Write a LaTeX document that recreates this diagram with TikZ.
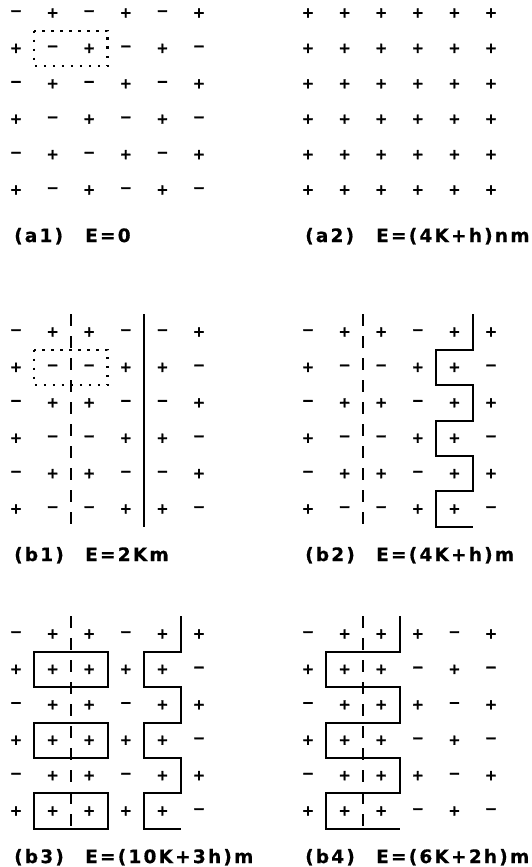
\documentclass[tikz,border=0pt]{standalone}
\usepackage{fontspec}
\newfontfamily\signfont[FakeBold=1.5]{DejaVu Sans Bold}
\newfontfamily\labelfont[LetterSpace=12,FakeBold=0.5]{DejaVu Sans Bold}
\usepackage{tikz}
\tikzstyle{sgn}      = [inner sep=0pt, font=\signfont\fontsize{14.5}{14.5}\selectfont]
\tikzstyle{caption}  = [anchor=base west, inner sep=0pt,
                        font=\labelfont\fontsize{18.5}{20}\selectfont]
\tikzstyle{wall}     = [line width=2pt]
\tikzstyle{dashwall} = [line width=2pt, dash pattern=on 12pt off 10pt]
\tikzstyle{cellbox}  = [line width=2.2pt, dash pattern=on 2.2pt off 6.8pt]

% one 6x6 array of signs, rows given top to bottom
\newcommand{\signgrid}[2]{%
  \foreach \row [count=\r from 0] in {#2} {
    \foreach \s [count=\c from 0] in \row {
      \node[sgn] (#1-\r-\c) at (\c,\r) {\s};
    }
  }%
}
% stepped wall between columns #1 (left) and #2 (right)
\newcommand{\zigzag}[2]{%
  \draw[wall] (#2,-0.5) -- (#2,0.5) -- (#1,0.5) -- (#1,1.5) -- (#2,1.5) -- (#2,2.5)
    -- (#1,2.5) -- (#1,3.5) -- (#2,3.5) -- (#2,4.5) -- (#1,4.5) -- (#1,5.5) -- (#2,5.5);%
}

\begin{document}
\begin{tikzpicture}[x=36.6pt, y=-35.4pt]
  \useasboundingbox (0pt,0pt) rectangle (532pt,-867pt);

  % (a1) antiferromagnetic ground state
  \begin{scope}[shift={(16pt,-13pt)}]
    \signgrid{aone}{{−,+,−,+,−,+},{+,−,+,−,+,−},{−,+,−,+,−,+},
                    {+,−,+,−,+,−},{−,+,−,+,−,+},{+,−,+,−,+,−}}
    \draw[cellbox] (0.5,0.5) rectangle (2.5,1.5);
    \node[caption, xshift=-2pt] (aonecap) at (0,6.47)
      {\makebox[71pt][l]{(a1)}E=0};
  \end{scope}

  % (a2) all up
  \begin{scope}[shift={(308pt,-13pt)}]
    \signgrid{atwo}{{+,+,+,+,+,+},{+,+,+,+,+,+},{+,+,+,+,+,+},
                    {+,+,+,+,+,+},{+,+,+,+,+,+},{+,+,+,+,+,+}}
    \node[caption, xshift=-3pt] (atwocap) at (0,6.47)
      {\makebox[71pt][l]{(a2)}E=(4K+h)nm};
  \end{scope}

  % (b1) straight walls
  \begin{scope}[shift={(16pt,-332pt)}]
    \signgrid{bone}{{−,+,+,−,−,+},{+,−,−,+,+,−},{−,+,+,−,−,+},
                    {+,−,−,+,+,−},{−,+,+,−,−,+},{+,−,−,+,+,−}}
    \draw[cellbox] (0.5,0.5) rectangle (2.5,1.5);
    \draw[dashwall] (1.5,-0.5) -- (1.5,5.5);
    \draw[wall] (3.5,-0.5) -- (3.5,5.5);
    \node[caption, xshift=-2pt] (bonecap) at (0,6.47)
      {\makebox[71pt][l]{(b1)}E=2Km};
  \end{scope}

  % (b2) stepped wall
  \begin{scope}[shift={(308pt,-332pt)}]
    \signgrid{btwo}{{−,+,+,−,+,+},{+,−,−,+,+,−},{−,+,+,−,+,+},
                    {+,−,−,+,+,−},{−,+,+,−,+,+},{+,−,−,+,+,−}}
    \draw[dashwall] (1.5,-0.5) -- (1.5,5.5);
    \zigzag{3.5}{4.5}
    \node[caption, xshift=-3pt] (btwocap) at (0,6.47)
      {\makebox[71pt][l]{(b2)}E=(4K+h)m};
  \end{scope}

  % (b3) boxes and stepped wall
  \begin{scope}[shift={(16pt,-634pt)}]
    \signgrid{bthree}{{−,+,+,−,+,+},{+,+,+,+,+,−},{−,+,+,−,+,+},
                      {+,+,+,+,+,−},{−,+,+,−,+,+},{+,+,+,+,+,−}}
    \draw[wall] (0.5,0.5) rectangle (2.5,1.5);
    \draw[wall] (0.5,2.5) rectangle (2.5,3.5);
    \draw[wall] (0.5,4.5) rectangle (2.5,5.5);
    \draw[dashwall] (1.5,-0.5) -- (1.5,5.5);
    \zigzag{3.5}{4.5}
    \node[caption, xshift=-2pt] (bthreecap) at (0,6.47)
      {\makebox[71pt][l]{(b3)}E=(10K+3h)m};
  \end{scope}

  % (b4) wide stepped wall
  \begin{scope}[shift={(308pt,-634pt)}]
    \signgrid{bfour}{{−,+,+,+,−,+},{+,+,+,−,+,−},{−,+,+,+,−,+},
                     {+,+,+,−,+,−},{−,+,+,+,−,+},{+,+,+,−,+,−}}
    \draw[dashwall] (1.5,-0.5) -- (1.5,5.5);
    \zigzag{0.5}{2.5}
    \node[caption, xshift=-3pt] (bfourcap) at (0,6.47)
      {\makebox[71pt][l]{(b4)}E=(6K+2h)m};
  \end{scope}

\end{tikzpicture}
\end{document}
